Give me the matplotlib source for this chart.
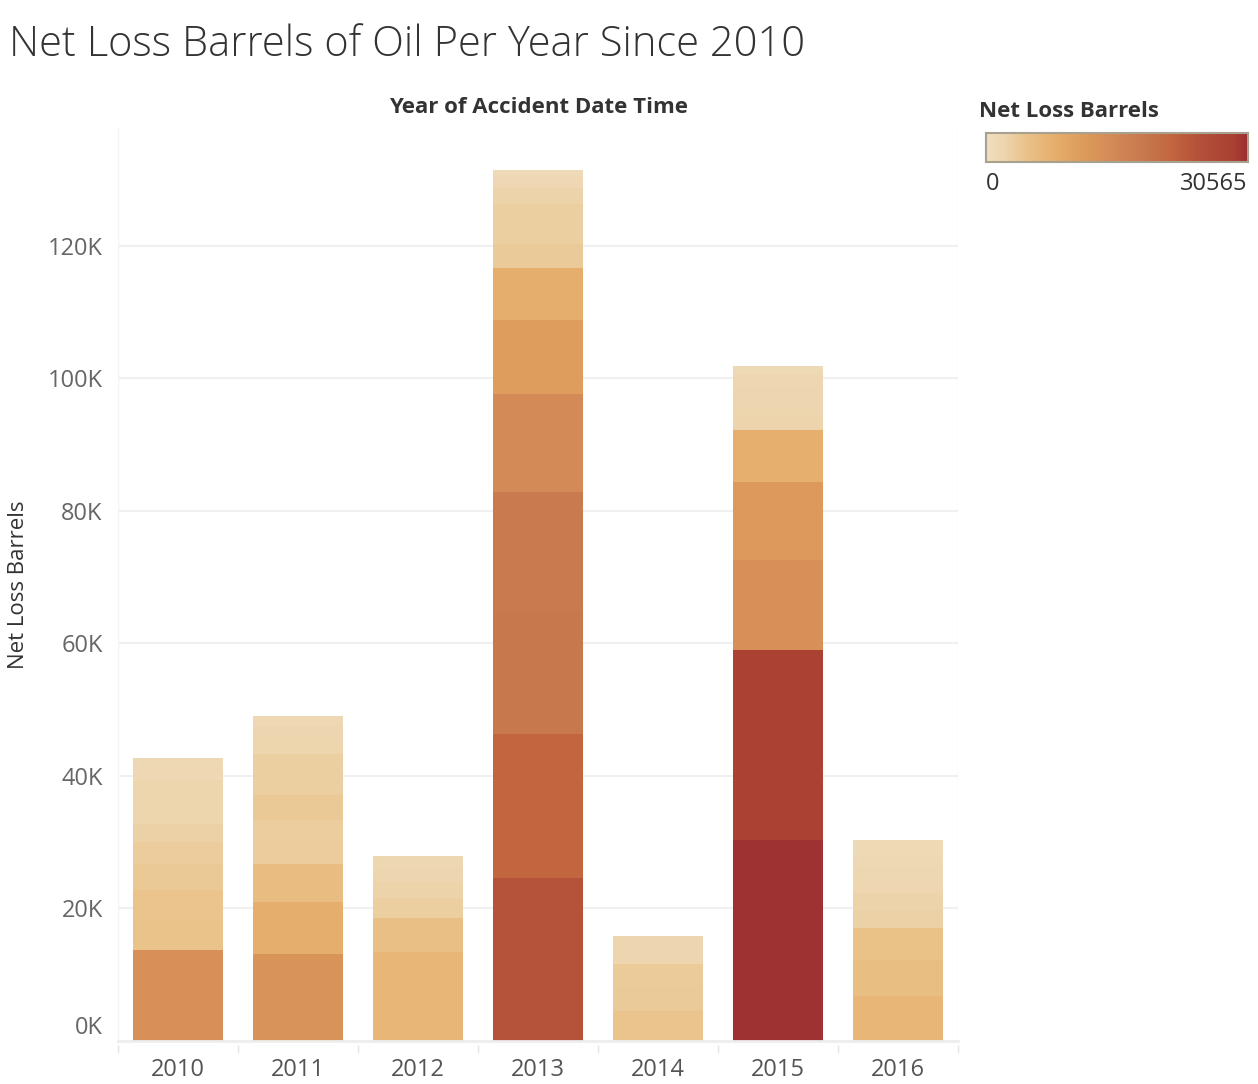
import numpy as np
import matplotlib
matplotlib.use("Agg")
import matplotlib.pyplot as plt
import matplotlib.transforms as mtransforms
from matplotlib.colors import LinearSegmentedColormap, Normalize

# net loss barrels per accident (thousands), stacked bottom to top
years = ["2010", "2011", "2012", "2013", "2014", "2015", "2016"]
seg_2010 = [13.7, 4.6, 4.5, 3.9, 3.4, 2.7, 2.2, 2.2, 2.2, 1.7, 1.6]
seg_2011 = [13.1, 7.9, 5.7, 3.4, 3.3, 3.8, 3.1, 3.0, 2.2, 2.1, 1.5]
seg_2012 = [6.7, 6.7, 5.2, 3.0, 2.4, 2.1, 1.8]
seg_2013 = [24.6, 21.7, 18.6, 18.0, 14.8, 11.1, 7.9, 3.6, 3.0, 3.0, 2.4, 1.7, 1.1]
seg_2014 = [4.5, 3.6, 3.5, 2.1, 2.1]
seg_2015 = [30.3, 28.7, 13.6, 11.8, 7.8, 2.3, 2.1, 2.1, 2.0, 1.2]
seg_2016 = [6.8, 5.4, 4.9, 2.7, 2.5, 2.0, 1.9, 1.5, 1.4, 1.2]
segments = [seg_2010, seg_2011, seg_2012, seg_2013, seg_2014, seg_2015, seg_2016]
max_val = 30565
y_ticks = [0, 20, 40, 60, 80, 100, 120]

cmap = LinearSegmentedColormap.from_list("orange_gold", [
    (0.0, "#F0DFBF"), (0.07, "#EDD5AE"), (0.15, "#EAC38A"), (0.25, "#E7B06F"),
    (0.36, "#DE9D5C"), (0.47, "#D48C57"), (0.6, "#C8794E"), (0.71, "#C2663F"),
    (0.8, "#B5533A"), (0.94, "#AA4133"), (1.0, "#9C2F32")])
norm = Normalize(0, max_val / 1000)

plt.rcParams['font.family'] = ['Open Sans', 'DejaVu Sans']
fig = plt.figure(figsize=(12.58, 10.84), dpi=100)
ax = fig.add_axes([0.0938, 0.0397, 0.6677, 0.8422])

for i, segs in enumerate(segments):
    bottom = 0
    for v in segs:
        ax.bar(i, v, bottom=bottom, width=0.75, color=cmap(norm(v)), linewidth=0)
        bottom += v

ax.set_xlim(-0.5, 6.5)
ax.set_ylim(0, 137.8)
ax.set_yticks(y_ticks)
ax.set_yticklabels([f"{t}K" for t in y_ticks], color="#666666", fontsize=17)
ax.set_xticks(range(len(years)))
ax.set_xticklabels(years, color="#555555", fontsize=17)
ax.tick_params(axis="both", length=0)
ax.tick_params(axis="x", pad=12)
ax.tick_params(axis="y", pad=11)
# the 0K label sits a little above the baseline
lbl0 = ax.get_yticklabels()[0]
lbl0.set_transform(lbl0.get_transform() + mtransforms.ScaledTranslation(0, 16 / 100, fig.dpi_scale_trans))
ax.grid(axis="y", color="#EEEEEE", linewidth=1.2)
ax.set_axisbelow(True)
for s in ["top", "right", "left"]:
    ax.spines[s].set_visible(False)
ax.spines["bottom"].set_color("#EEEEEE")
ax.spines["bottom"].set_linewidth(2)
for b in np.arange(-0.5, 7, 1):
    ax.plot([b, b], [-0.005, -0.012], transform=ax.get_xaxis_transform(),
            color="#E4E4E4", lw=1, clip_on=False)
ax.plot([-0.5, -0.5], [0, 1], transform=ax.get_xaxis_transform(), color="#F4F4F4", lw=1)
ax.plot([6.5, 6.5], [0, 1], transform=ax.get_xaxis_transform(), color="#F4F4F4", lw=1)

ax.set_ylabel("Net Loss Barrels", fontsize=16, color="#333333")
ax.yaxis.set_label_coords(-0.106, 0.5)

fig.text(0.007, 0.959, "Net Loss Barrels of Oil Per Year Since 2010", fontsize=30,
         color="#333333", va="center", ha="left", fontweight="light")
fig.text(0.4277, 0.901, "Year of Accident Date Time", fontsize=16, color="#333333",
         fontweight="bold", ha="center", va="center")

# color legend
cax = fig.add_axes([0.7838, 0.8506, 0.2083, 0.0268])
grad = np.linspace(0, 1, 256).reshape(1, -1)
cax.imshow(grad, aspect="auto", cmap=cmap, extent=[0, 1, 0, 1])
cax.set_xticks([])
cax.set_yticks([])
for s in cax.spines.values():
    s.set_color("#A8A190")
    s.set_linewidth(1.5)
fig.text(0.778, 0.897, "Net Loss Barrels", fontsize=16, color="#333333",
         fontweight="bold", ha="left", va="center")
fig.text(0.784, 0.830, "0", fontsize=17, color="#333333", ha="left", va="center")
fig.text(0.992, 0.830, f"{max_val}", fontsize=17, color="#333333", ha="right", va="center")

fig.savefig("out.png", dpi=100)
